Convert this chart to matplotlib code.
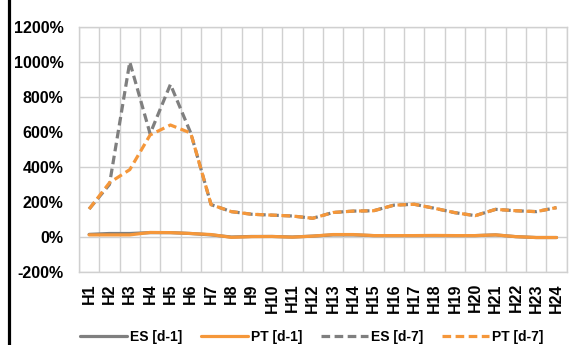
import matplotlib.pyplot as plt
from matplotlib.lines import Line2D
from matplotlib.ticker import FuncFormatter, MultipleLocator

plt.rcParams['font.family'] = ['Liberation Sans', 'DejaVu Sans']
plt.rcParams['font.weight'] = 'bold'

hours = [f"H{i}" for i in range(1, 25)]

es_d1 = [15, 20, 20, 25, 25, 20, 12, 0, 3, 3, 0, 5, 12, 12, 8, 8, 8, 8, 8, 8, 12, 2, -3, -3]
pt_d1 = [12, 12, 12, 26, 25, 20, 14, -2, 2, 3, -1, 5, 14, 14, 8, 8, 8, 9, 8, 8, 12, 2, -3, -3]
es_d7 = [160, 300, 1000, 590, 872, 594, 185, 145, 130, 125, 120, 107, 140, 148, 150, 182, 187, 164, 139, 122, 158, 150, 145, 168]
pt_d7 = [160, 310, 385, 583, 640, 594, 185, 145, 130, 125, 120, 107, 140, 148, 150, 182, 187, 164, 139, 122, 158, 150, 145, 168]

gray = '#7F7F7F'
orange = '#F5973A'
grid_c = '#D0D0D0'

fig = plt.figure(figsize=(5.82, 3.45), dpi=100)
ax = fig.add_axes([0.1357, 0.2116, 0.838, 0.7101])

x = list(range(len(hours)))
lw = 2.3
ax.plot(x, es_d1, color=gray, lw=lw, label='ES [d-1]', solid_capstyle='round')
ax.plot(x, pt_d1, color=orange, lw=lw, label='PT [d-1]', solid_capstyle='round')
ax.plot(x, es_d7, color=gray, lw=lw, ls=(0, (2.7, 1.4)), label='ES [d-7]')
ax.plot(x, pt_d7, color=orange, lw=lw, ls=(0, (2.7, 1.4)), label='PT [d-7]')

ax.set_xlim(-0.5, 23.5)
ax.set_ylim(-200, 1200)
ax.yaxis.set_major_locator(MultipleLocator(200))
ax.yaxis.set_major_formatter(FuncFormatter(lambda v, p: f"{v:.0f}%"))
ax.set_xticks(x)
ax.set_xticklabels(hours, rotation=90)
ax.set_xticks([i - 0.5 for i in range(25)], minor=True)

ax.grid(axis='y', which='major', color=grid_c, lw=1)
ax.grid(axis='x', which='minor', color=grid_c, lw=1)
ax.set_axisbelow(True)
for s in ax.spines.values():
    s.set_color(grid_c)
    s.set_linewidth(1)

ax.tick_params(axis='both', which='both', length=0)
ax.tick_params(axis='y', labelsize=11.5, pad=11)
ax.tick_params(axis='x', labelsize=11.5, pad=8)

ax.legend(loc='center', bbox_to_anchor=(0.477, -0.265), ncol=4, frameon=False,
          fontsize=10, handlelength=3.4, columnspacing=1.3, handletextpad=0.25,
          borderaxespad=0, borderpad=0)

# black border line on the left edge
fig.add_artist(Line2D([0.0163, 0.0163], [0, 1], color='black', lw=2.3,
                      transform=fig.transFigure))

fig.savefig('out.png', dpi=100)
